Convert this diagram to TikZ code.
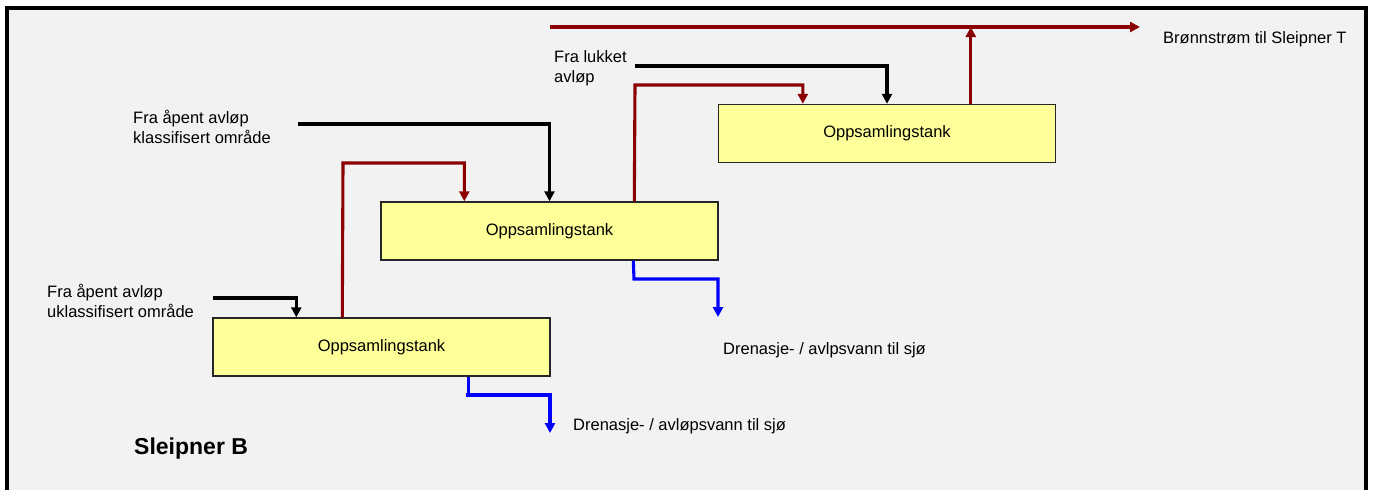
\documentclass[tikz,border=0pt]{standalone}
\usepackage{fontspec}
\setmainfont{Liberation Sans}
\usepackage{tikz}
\usetikzlibrary{arrows.meta,positioning}
\definecolor{tankyellow}{HTML}{ffff99}
\definecolor{framegray}{HTML}{f2f2f2}
\definecolor{gasred}{HTML}{8b0000}
\definecolor{drainblue}{HTML}{0000ff}

\begin{document}
\begin{tikzpicture}[x=1pt, y=-1pt, >={Triangle[length=10pt,width=10pt]},
    tank/.style={draw=black!85, line width=1.4pt, fill=tankyellow, minimum width=337pt, minimum height=58pt, inner sep=0pt, font=\fontsize{16.5}{19.5}\selectfont},
    lbl/.style={anchor=west, inner sep=0pt, align=left, font=\fontsize{16.5}{19.5}\selectfont},
    gasline/.style={draw=gasred, line width=3.1pt},
    feedline/.style={draw=black, line width=3.1pt},
    drainline/.style={draw=drainblue, line width=3.1pt}]
  % page and frame (open at the bottom)
  \useasboundingbox (0,0) rectangle (1375,490);
  \fill[white] (0,0) rectangle (1375,490);
  \fill[framegray] (7,8) rectangle (1366,490);
  \draw[line width=3.6pt] (7,490) -- (7,8) -- (1366,8) -- (1366,490);

  % the three collecting tanks
  \node[tank] (tankA) at (381.5,347) {Oppsamlingstank};
  \node[tank] (tankB) at (549.5,231) {Oppsamlingstank};
  \node[tank] (tankC) at (887,133.5) {Oppsamlingstank};

  % texts
  \node[lbl] (inKlass) at (133,127) {Fra åpent avløp\\klassifisert område};
  \node[lbl] (inUklass) at (47,301) {Fra åpent avløp\\uklassifisert område};
  \node[lbl] (inLukket) at (554,68) {Fra lukket\\avløp};
  \node[lbl] (toT) at (1163,39) {Brønnstrøm til Sleipner T};
  \node[lbl] (seaA) at (573,426) {Drenasje- / avløpsvann til sjø};
  \node[lbl] (seaB) at (723,350) {Drenasje- / avlpsvann til sjø};
  \node[anchor=west, inner sep=0pt, font=\fontsize{23}{27}\selectfont\bfseries] (title) at (134,449) {Sleipner B};

  % bend points and free ends
  \coordinate (feedKlass) at (298,124);
  \coordinate (feedUklass) at (213,298);
  \coordinate (feedLukket) at (635,66);
  \coordinate (gasA) at (343,163);
  \coordinate (gasB) at (635,85);
  \coordinate (mainStart) at (550,27);
  \coordinate (mainEnd) at (1140,27);
  \coordinate (drainA) at (466,395);
  \coordinate (seaEndA) at (550,433);
  \coordinate (drainB) at (634,279);
  \coordinate (seaEndB) at (718,317);

  % feeds (black)
  \draw[feedline,->] (feedKlass) -| (tankB.north);
  \draw[feedline,->] (feedUklass) -| ([xshift=84pt]tankA.north west);
  \draw[feedline,->] (feedLukket) -| (tankC.north);

  % gas / well stream (red)
  \draw[gasline,->] ([xshift=130pt]tankA.north west) -- (gasA) -| ([xshift=84pt]tankB.north west);
  \draw[gasline,->] ([xshift=254pt]tankB.north west) -- (gasB) -| ([xshift=85pt]tankC.north west);
  \draw[gasline,->] (mainStart) -- (mainEnd);
  \draw[gasline,->] ([xshift=253pt]tankC.north west) -- ([xshift=253pt]tankC.north west |- mainStart);

  % drain water to sea (blue)
  \draw[drainline] ([xshift=256pt]tankA.south west) -- ([xshift=256pt]tankA.south west |- drainA);
  \draw[drainline,->] (drainA) -| (seaEndA);
  \draw[drainline,->] ([xshift=253pt]tankB.south west) -- (drainB) -| (seaEndB);
\end{tikzpicture}
\end{document}
